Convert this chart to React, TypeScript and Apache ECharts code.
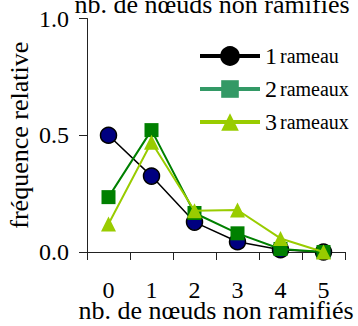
import React, { useEffect, useRef } from "react";
import * as echarts from "echarts";

const categories = ["0", "1", "2", "3", "4", "5"];
const seriesNames = ["1 rameau", "2 rameaux", "3 rameaux"];
const oneBranch = [0.5, 0.325, 0.128, 0.044, 0.01, 0.0];
const twoBranches = [0.235, 0.522, 0.167, 0.08, 0.013, 0.0];
const threeBranches = [0.12, 0.47, 0.177, 0.18, 0.058, 0.0];
const yTicks = [0, 0.5, 1.0];
const xTitle = "nb. de nœuds non ramifiés";
const yTitle = "fréquence relative";

const FONT = "Liberation Serif, Times New Roman, serif";

export default function App() {
  const ref = useRef<HTMLDivElement>(null);
  useEffect(() => {
    if (!ref.current) return;
    const chart = echarts.init(ref.current, undefined, { renderer: "svg" });
    chart.setOption({
      animation: false,
      textStyle: { fontFamily: FONT, color: "#000" },
      grid: { left: 87, right: 13, top: 18.5, bottom: 74, containLabel: false, outerBoundsMode: "none" },
      graphic: [
        {
          type: "text",
          x: 212,
          y: 4,
          style: {
            text: xTitle,
            fontFamily: FONT,
            fontSize: 26,
            fill: "#000",
            textAlign: "center",
            textVerticalAlign: "middle",
          },
        },
      ],
      legend: {
        orient: "vertical",
        left: 193,
        top: 39,
        itemWidth: 60,
        itemHeight: 22,
        itemGap: 9,
        data: [
          {
            name: seriesNames[0],
            itemStyle: { color: "#000", borderColor: "#000" },
            lineStyle: { color: "#000", width: 4 },
          },
          {
            name: seriesNames[1],
            itemStyle: { color: "#339966", borderWidth: 0 },
            lineStyle: { color: "#339966", width: 4 },
          },
          {
            name: seriesNames[2],
            itemStyle: { color: "#99cc00", borderWidth: 0 },
            lineStyle: { color: "#99cc00", width: 4 },
          },
        ],
        formatter: (name: string) => {
          const i = name.indexOf(" ");
          return `{n|${name.slice(0, i)}} {t|${name.slice(i + 1)}}`;
        },
        textStyle: {
          fontFamily: FONT,
          color: "#000",
          rich: {
            n: { fontSize: 24, fontFamily: FONT, color: "#000", lineHeight: 22 },
            t: { fontSize: 20, fontFamily: FONT, color: "#000", lineHeight: 22 },
          },
        },
      },
      xAxis: {
        type: "category",
        data: categories,
        boundaryGap: true,
        name: xTitle,
        nameLocation: "middle",
        nameGap: 48,
        nameMoveOverlap: false,
        nameTextStyle: { fontSize: 26, fontFamily: FONT, color: "#000", lineHeight: 20 },
        axisLine: { lineStyle: { color: "#222", width: 1 } },
        axisTick: { show: true, alignWithLabel: false, length: 8, lineStyle: { color: "#222" } },
        axisLabel: { fontSize: 24, fontFamily: FONT, color: "#000", margin: 29, lineHeight: 18 },
        splitLine: { show: false },
      },
      yAxis: {
        type: "value",
        min: yTicks[0],
        max: yTicks[yTicks.length - 1],
        interval: 0.5,
        name: yTitle,
        nameLocation: "middle",
        nameGap: 55,
        nameMoveOverlap: false,
        nameTextStyle: { fontSize: 26, fontFamily: FONT, color: "#000" },
        axisLine: { show: true, lineStyle: { color: "#222", width: 1 } },
        axisTick: { show: true, length: 8, lineStyle: { color: "#222" } },
        axisLabel: {
          fontSize: 24,
          fontFamily: FONT,
          color: "#000",
          margin: 18,
          formatter: (v: number) => v.toFixed(1),
        },
        splitLine: { show: false },
      },
      series: [
        {
          name: seriesNames[0],
          type: "line",
          data: oneBranch,
          symbol: "circle",
          symbolSize: 16,
          lineStyle: { color: "#000", width: 1.5 },
          itemStyle: { color: "#000080", borderColor: "#000", borderWidth: 1.5 },
          z: 2,
        },
        {
          name: seriesNames[1],
          type: "line",
          data: twoBranches,
          symbol: "rect",
          symbolSize: 14,
          lineStyle: { color: "#008000", width: 2 },
          itemStyle: { color: "#008000" },
          z: 3,
        },
        {
          name: seriesNames[2],
          type: "line",
          data: threeBranches,
          symbol: "triangle",
          symbolSize: 15,
          lineStyle: { color: "#99cc00", width: 2 },
          itemStyle: { color: "#99cc00" },
          z: 4,
        },
      ],
    });
    return () => chart.dispose();
  }, []);
  return <div ref={ref} style={{ width: 358, height: 326, position: "absolute", left: 0, top: 0 }} />;
}
